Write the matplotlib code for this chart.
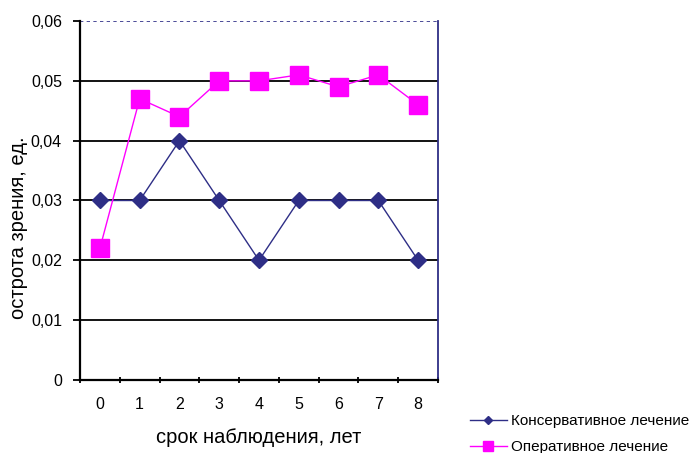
import numpy as np
import matplotlib
matplotlib.use('Agg')
import matplotlib.pyplot as plt

plt.rcParams['font.family'] = ['Liberation Sans', 'DejaVu Sans']

years = ['0', '1', '2', '3', '4', '5', '6', '7', '8']
conservative = [0.030, 0.030, 0.040, 0.030, 0.020, 0.030, 0.030, 0.030, 0.020]
operative = [0.022, 0.047, 0.044, 0.050, 0.050, 0.051, 0.049, 0.051, 0.046]
yticks = [0, 0.01, 0.02, 0.03, 0.04, 0.05, 0.06]
ytick_labels = ['0', '0,01', '0,02', '0,03', '0,04', '0,05', '0,06']

navy = '#2e2e86'
pink = '#ff00ff'

fig = plt.figure(figsize=(6.93, 4.53), dpi=100)
ax = fig.add_axes([80 / 693, 1 - 380 / 453, 358 / 693, 359 / 453])

x = np.arange(len(years))

# horizontal grid lines, the top one dotted like the plot frame
for v in yticks[1:-1]:
    ax.axhline(v, color='black', lw=1.3, zorder=1)
ax.axhline(yticks[-1], color=navy, lw=1.2, ls=(0, (2, 2)), zorder=1)

ax.plot(x, conservative, color=navy, lw=1.0, marker='D', markersize=8,
        markerfacecolor=navy, markeredgecolor=navy, label='Консервативное лечение', zorder=3)
ax.plot(x, operative, color=pink, lw=1.0, marker='s', markersize=12.5,
        markerfacecolor=pink, markeredgecolor=pink, label='Оперативное лечение', zorder=4)

ax.set_xlim(-0.5, len(years) - 0.5)
ax.set_ylim(0, 0.06)
ax.set_yticks(yticks)
ax.set_yticklabels(ytick_labels, fontsize=11.5)
ax.set_xticks(x)
ax.set_xticklabels(years, fontsize=11.5)
ax.set_xticks(np.arange(-0.5, len(years)), minor=True)
ax.tick_params(axis='x', which='major', length=0, pad=12)
ax.tick_params(axis='x', which='minor', length=4, width=1.3, direction='inout')
ax.tick_params(axis='y', length=5, width=1.3, direction='out', pad=8)

for side in ['left', 'bottom']:
    ax.spines[side].set_linewidth(1.6)
    ax.spines[side].set_color('black')
ax.spines['right'].set_color(navy)
ax.spines['right'].set_linewidth(1.3)
ax.spines['top'].set_visible(False)

ax.set_xlabel('срок наблюдения, лет', fontsize=14.5, labelpad=12)
ax.set_ylabel('острота зрения, ед.', fontsize=14.5)
ax.yaxis.set_label_coords(-0.145, 0.423)

fig.legend(loc='lower left', bbox_to_anchor=(464 / 693, -0.016), frameon=False,
           fontsize=11, handlelength=2.4, handletextpad=0.3, labelspacing=0.78,
           borderaxespad=0, markerscale=0.55)

fig.savefig('out.png', dpi=100)
